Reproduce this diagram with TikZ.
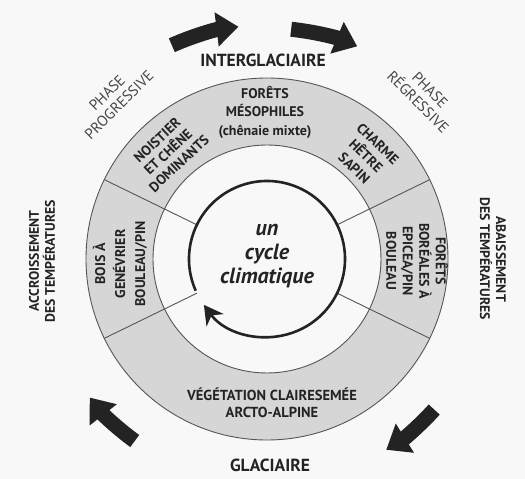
\documentclass[tikz,border=0pt]{standalone}
\usepackage{fontspec}
\setmainfont{PT Sans}
\usetikzlibrary{arrows.meta}
\definecolor{ink}{RGB}{35,35,35}
\definecolor{ringfill}{RGB}{214,214,214}
\definecolor{linec}{RGB}{85,85,85}
\definecolor{phasec}{RGB}{70,70,70}
\definecolor{bg}{RGB}{248,248,248}
\tikzset{
  lab/.style={font=\bfseries\fontsize{14}{18.5}\selectfont, align=center, text=ink, inner sep=0pt},
  outerlab/.style={font=\bfseries\fontsize{13.8}{16}\selectfont, align=center, text=ink, inner sep=0pt},
  biglab/.style={font=\bfseries\fontsize{17.5}{18}\selectfont, text=ink, inner sep=0pt},
  phaselab/.style={font=\fontsize{15}{17}\selectfont, align=center, text=phasec, inner sep=0pt},
  cyclab/.style={font=\bfseries\itshape\fontsize{22}{24}\selectfont, align=center, text=ink, inner sep=0pt},
  bigarrow/.style={line width=15pt, draw=ink, -{Triangle[width=33pt,length=22pt]}},
  thinline/.style={draw=linec, line width=0.9pt}
}
\begin{document}
\begin{tikzpicture}[x=1pt,y=1pt]
\useasboundingbox (-267,-220) rectangle (258,259);
\fill[bg] (-267,-220) rectangle (258,259);
% shaded ring
\fill[ringfill, even odd rule] (0,0) circle[radius=181] (0,0) circle[radius=114];
\draw[thinline] (0,0) circle[radius=181];
\draw[thinline] (0,0) circle[radius=114];
\foreach \a in {26,154,206,334} \draw[thinline] (\a:78) -- (\a:181);
% inner cycle arrow
\draw[line width=2.6pt, ink, -{Stealth[length=19pt,width=21pt,inset=6pt]}] (204:78) arc[start angle=204, end angle=-144, radius=78];
% big arrows
\draw[bigarrow] (114:234) arc[start angle=114, end angle=97, radius=234];
\draw[bigarrow] (84:231) arc[start angle=84, end angle=67, radius=231];
\draw[bigarrow] (234:225) arc[start angle=234, end angle=218, radius=225];
\draw[bigarrow] (318:225) arc[start angle=318, end angle=302, radius=225];
% labels
\node[biglab] (inter) at (-4,198.5) {INTERGLACIAIRE};
\node[biglab] (glac) at (3,-206) {GLACIAIRE};
\node[phaselab, rotate=45] (pp) at (-154,160) {PHASE\\PROGRESSIVE};
\node[phaselab, rotate=-45] (pr) at (157,163) {PHASE\\RÉGRESSIVE};
\node[outerlab, rotate=90] (acc) at (-225,-2) {ACCROISSEMENT\\DES TEMPÉRATURES};
\node[outerlab, rotate=-90] (aba) at (226,0) {ABAISSEMENT\\DES TEMPÉRATURES};
\node[lab] (meso) at (-2,147) {FORÊTS\\MÉSOPHILES\\(chênaie mixte)};
\node[lab, font=\bfseries\fontsize{14}{16}\selectfont, rotate=43] (noi) at (-99,107) {NOISTIER\\ET CHÊNE\\DOMINANTS};
\node[lab, font=\bfseries\fontsize{14}{17}\selectfont, rotate=-44] (cha) at (99,103) {CHARME\\HÊTRE\\SAPIN};
\node[lab, font=\bfseries\fontsize{14}{20}\selectfont, rotate=90] (bois) at (-147,-5) {BOIS À\\GENÉVRIER\\BOULEAU/PIN};
\node[lab, font=\bfseries\fontsize{14}{16.5}\selectfont, rotate=-90] (bor) at (150,-2) {FORÊTS\\BORÉALES À\\EPICEA/PIN\\BOULEAU};
\node[lab, font=\bfseries\fontsize{14.5}{17}\selectfont] (veg) at (5,-144) {VÉGÉTATION CLAIRESEMÉE\\ARCTO-ALPINE};
\node[cyclab] (cyc) at (0,3) {un\\cycle\\climatique};
\end{tikzpicture}
\end{document}
